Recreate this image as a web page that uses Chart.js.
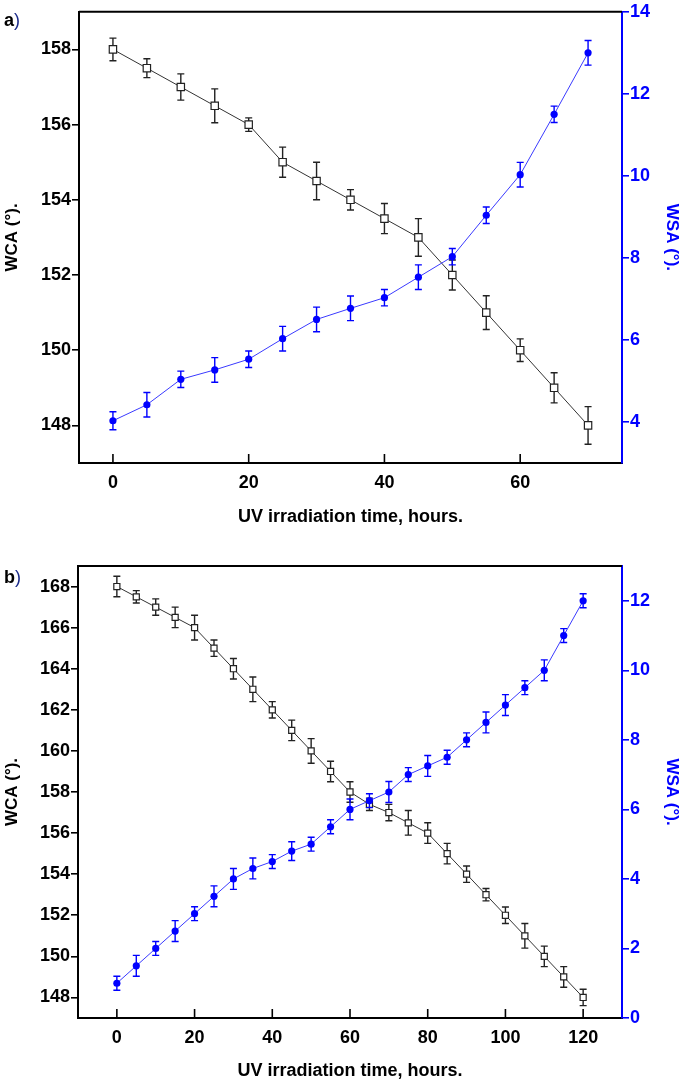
<!DOCTYPE html>
<html>
<head>
<meta charset="utf-8">
<script src="https://cdn.jsdelivr.net/npm/chart.js@4/dist/chart.umd.min.js"></script>
<style>
  body { margin: 0; background: #fff; }
  #wrap { position: relative; width: 685px; height: 1084px; }
  canvas { position: absolute; left: 0; }
  .tag { position: absolute; font: bold 18px 'Liberation Sans', Arial, sans-serif; line-height: 18px; color: #000; }
  .tag span { color: #1a2a8a; font-weight: normal; }
</style>
</head>
<body>
<div id="wrap">
  <canvas id="chartA" width="685" height="530" style="top:0"></canvas>
  <canvas id="chartB" width="685" height="554" style="top:530px"></canvas>
  <div class="tag" style="left:4px;top:11px">a<span>)</span></div>
  <div class="tag" style="left:4px;top:568px">b<span>)</span></div>
</div>
<script>
// ---- data: panel a ----
const hoursA   = [0, 5, 10, 15, 20, 25, 30, 35, 40, 45, 50, 55, 60, 65, 70];
const wcaA     = [158, 157.5, 157, 156.5, 156, 155, 154.5, 154, 153.5, 153, 152, 151, 150, 149, 148];
const wcaErrA  = [0.3, 0.25, 0.35, 0.45, 0.18, 0.4, 0.5, 0.27, 0.4, 0.5, 0.4, 0.45, 0.3, 0.4, 0.5];
const wsaA     = [4.03, 4.42, 5.04, 5.27, 5.53, 6.03, 6.5, 6.77, 7.03, 7.53, 8.03, 9.04, 10.03, 11.5, 13.0];
const wsaErrA  = [0.22, 0.3, 0.2, 0.3, 0.2, 0.3, 0.3, 0.3, 0.2, 0.3, 0.2, 0.2, 0.3, 0.2, 0.3];
const xTicksA   = [0, 20, 40, 60];
const wcaTicksA = [148, 150, 152, 154, 156, 158];
const wsaTicksA = [4, 6, 8, 10, 12, 14];

// ---- data: panel b ----
const hoursB   = [0, 5, 10, 15, 20, 25, 30, 35, 40, 45, 50, 55, 60, 65, 70, 75, 80, 85, 90, 95, 100, 105, 110, 115, 120];
const wcaB     = [168, 167.5, 167, 166.5, 166, 165, 164, 163, 162, 161, 160, 159, 158, 157.4, 157, 156.5, 156, 155, 154, 153, 152, 151, 150, 149, 148];
const wcaErrB  = [0.5, 0.3, 0.4, 0.5, 0.6, 0.4, 0.5, 0.6, 0.4, 0.5, 0.6, 0.5, 0.5, 0.3, 0.4, 0.6, 0.5, 0.5, 0.4, 0.3, 0.4, 0.6, 0.5, 0.5, 0.4];
const wsaB     = [1.0, 1.5, 2.0, 2.5, 3.0, 3.5, 4.0, 4.3, 4.5, 4.8, 5.0, 5.5, 6.0, 6.25, 6.5, 7.0, 7.25, 7.5, 8.0, 8.5, 9.0, 9.5, 10.0, 11.0, 12.0];
const wsaErrB  = [0.2, 0.3, 0.2, 0.3, 0.2, 0.3, 0.3, 0.3, 0.2, 0.27, 0.2, 0.2, 0.3, 0.2, 0.3, 0.2, 0.3, 0.2, 0.2, 0.3, 0.3, 0.2, 0.3, 0.2, 0.2];
const xTicksB   = [0, 20, 40, 60, 80, 100, 120];
const wcaTicksB = [148, 150, 152, 154, 156, 158, 160, 162, 164, 166, 168];
const wsaTicksB = [0, 2, 4, 6, 8, 10, 12];

const BLUE = '#0000ff';
const FONT = "'Liberation Sans', Arial, sans-serif";
Chart.defaults.font.family = FONT;

// error bars, drawn under each dataset's line and markers
const errorBars = {
  id: 'errorBars',
  beforeDatasetDraw(chart, args) {
    const ds = chart.data.datasets[args.index];
    if (!ds.errors) return;
    const xs = chart.scales[args.meta.xAxisID];
    const ys = chart.scales[args.meta.yAxisID];
    const ctx = chart.ctx;
    ctx.save();
    ctx.strokeStyle = ds.barColor;
    ctx.lineWidth = 1.4;
    ds.data.forEach((p, i) => {
      const px = xs.getPixelForValue(p.x);
      const hi = ys.getPixelForValue(p.y + ds.errors[i]);
      const lo = ys.getPixelForValue(p.y - ds.errors[i]);
      ctx.beginPath();
      ctx.moveTo(px, hi); ctx.lineTo(px, lo);
      ctx.moveTo(px - 3.5, hi); ctx.lineTo(px + 3.5, hi);
      ctx.moveTo(px - 3.5, lo); ctx.lineTo(px + 3.5, lo);
      ctx.stroke();
    });
    ctx.restore();
  }
};

// top frame line and inward x tick marks
const frame = {
  id: 'frame',
  afterDraw(chart) {
    const { ctx, chartArea: a, scales: { x } } = chart;
    ctx.save();
    ctx.strokeStyle = '#000';
    ctx.lineWidth = 2;
    ctx.beginPath(); ctx.moveTo(a.left, a.top); ctx.lineTo(a.right, a.top); ctx.stroke();
    ctx.lineWidth = 1.6;
    x.ticks.forEach(t => {
      const px = x.getPixelForValue(t.value);
      ctx.beginPath(); ctx.moveTo(px, a.bottom); ctx.lineTo(px, a.bottom - 9); ctx.stroke();
    });
    ctx.restore();
  }
};

function pts(xs, ys) { return xs.map((h, i) => ({ x: h, y: ys[i] })); }

function makePanel(id, cfg) {
  new Chart(document.getElementById(id), {
    type: 'line',
    data: {
      datasets: [
        {
          label: 'WCA', data: pts(cfg.hours, cfg.wca), errors: cfg.wcaErr, barColor: '#222',
          yAxisID: 'y', order: 1,
          borderColor: '#333', borderWidth: 1, tension: 0,
          pointStyle: 'rect', pointRadius: cfg.sq, pointBorderWidth: 1.2,
          pointBorderColor: '#222', pointBackgroundColor: '#fff',
        },
        {
          label: 'WSA', data: pts(cfg.hours, cfg.wsa), errors: cfg.wsaErr, barColor: BLUE,
          yAxisID: 'y2', order: 0,
          borderColor: '#3a3aff', borderWidth: 1, tension: 0,
          pointStyle: 'circle', pointRadius: 3.6, pointBorderWidth: 0,
          pointBackgroundColor: BLUE,
        },
      ],
    },
    options: {
      responsive: false, animation: false,
      layout: { padding: { top: cfg.top, left: 0, right: 0, bottom: 0 } },
      plugins: { legend: { display: false }, tooltip: { enabled: false } },
      scales: {
        x: {
          type: 'linear', min: cfg.xMin, max: cfg.xMax,
          afterBuildTicks: s => { s.ticks = cfg.xTicks.map(v => ({ value: v })); },
          afterFit: s => { s.height = cfg.xH; },
          border: { color: '#000', width: 2 },
          grid: { display: true, drawOnChartArea: false, drawTicks: false },
          ticks: { color: '#000', padding: 9, font: { size: 18, weight: 'bold' } },
          title: { display: true, text: 'UV irradiation time, hours.', color: '#000',
                   padding: { top: 0, bottom: 2 }, font: { size: 18, weight: 'bold' } },
        },
        y: {
          position: 'left', min: cfg.wcaMin, max: cfg.wcaMax,
          afterBuildTicks: s => { s.ticks = cfg.wcaTicks.map(v => ({ value: v })); },
          afterFit: s => { s.width = cfg.left; },
          border: { color: '#000', width: 2 },
          grid: { drawOnChartArea: false, tickLength: 7, tickColor: '#000', lineWidth: 1.6 },
          ticks: { color: '#000', padding: 1, font: { size: 18, weight: 'bold' } },
          title: { display: true, text: 'WCA (°).', color: '#000',
                   padding: { top: 2, bottom: 0 }, font: { size: 17, weight: 'bold' } },
        },
        y2: {
          position: 'right', min: cfg.wsaMin, max: cfg.wsaMax,
          afterBuildTicks: s => { s.ticks = cfg.wsaTicks.map(v => ({ value: v })); },
          afterFit: s => { s.width = 685 - 622; },
          border: { color: BLUE, width: 2 },
          grid: { drawOnChartArea: false, tickLength: 7, tickColor: BLUE, lineWidth: 1.6 },
          ticks: { color: BLUE, padding: 1, font: { size: 18, weight: 'bold' } },
          title: { display: true, text: 'WSA (°).', color: BLUE,
                   padding: { top: 3, bottom: 0 }, font: { size: 17, weight: 'bold' } },
        },
      },
    },
    plugins: [errorBars, frame],
  });
}

makePanel('chartA', {
  hours: hoursA, wca: wcaA, wcaErr: wcaErrA, wsa: wsaA, wsaErr: wsaErrA,
  xTicks: xTicksA, wcaTicks: wcaTicksA, wsaTicks: wsaTicksA,
  xMin: -5, xMax: 75, wcaMin: 147, wcaMax: 159, wsaMin: 3, wsaMax: 14,
  top: 10, left: 79, xH: 67, sq: 5.2,
});

makePanel('chartB', {
  hours: hoursB, wca: wcaB, wcaErr: wcaErrB, wsa: wsaB, wsaErr: wsaErrB,
  xTicks: xTicksB, wcaTicks: wcaTicksB, wsaTicks: wsaTicksB,
  xMin: -10, xMax: 130, wcaMin: 147, wcaMax: 169, wsaMin: 0, wsaMax: 13,
  top: 36, left: 78, xH: 66, sq: 4.3,
});
</script>
</body>
</html>
